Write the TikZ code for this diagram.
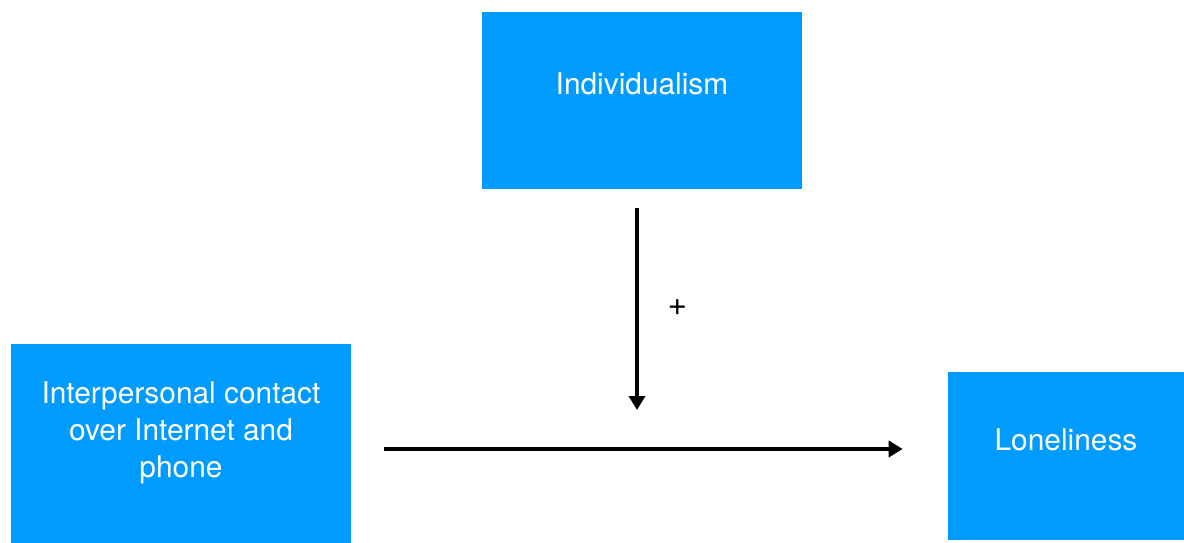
\documentclass[tikz,border=0pt]{standalone}
\usepackage{fontspec}
\setmainfont{TeX Gyre Heros}
\usepackage{tikz}
\usetikzlibrary{arrows.meta,positioning}
\definecolor{boxblue}{RGB}{0,155,255}

\begin{document}
\begin{tikzpicture}[
      x=0.02cm, y=-0.02cm,
      box/.style={rectangle, fill=boxblue, text=white, align=center, font=\fontsize{17}{21}\selectfont, inner sep=0pt},
      arrow/.style={-{Triangle[length=0.28cm, width=0.32cm]}, line width=0.09cm}
    ]
    \useasboundingbox (0,0) rectangle (1184,543);

    % Boxes
    \node[box, minimum width=6.4cm, minimum height=3.54cm, text depth=0.68cm] (indiv) at (642,100.5) {Individualism};
    \node[box, minimum width=6.8cm, minimum height=3.98cm, text depth=0.57cm] (contact) at (181,443.5) {Interpersonal contact\\over Internet and\\phone};
    \node[box, minimum width=4.72cm, minimum height=3.36cm, text depth=0.64cm] (lonely) at (1066,456) {Loneliness};

    % Main effect
    \draw[arrow, shorten <=0.66cm, shorten >=0.9cm] ([yshift=-0.11cm]contact.east) -- coordinate (target) ([yshift=-0.11cm]contact.east -| lonely.west);

    % Moderation
    \draw[arrow, shorten <=0.38cm, shorten >=0.78cm] ([xshift=-0.1cm]indiv.south) -- node[right=0.45cm, yshift=0.24cm, font=\fontsize{19}{21}\selectfont] {+} ([xshift=-0.1cm]indiv.south |- target);
\end{tikzpicture}
\end{document}
